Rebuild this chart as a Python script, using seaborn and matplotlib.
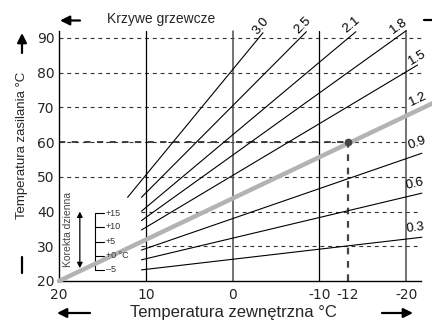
import numpy as np
import pandas as pd
import matplotlib
matplotlib.use("Agg")
import matplotlib.pyplot as plt
import seaborn as sns

# heating curves: start and end points
curve_labels = ['3.0', '2.5', '2.1', '1.8', '1.5', '0.9', '0.6', '0.3']
start_out = [12.1, 10.5, 10.5, 10.5, 10.5, 10.5, 10.5, 10.5]
start_sup = [44.1, 44.1, 40.1, 37.4, 34.7, 28.9, 26.1, 23.2]
end_out = [-3.5, -8.5, -14.2, -20.0, -21.3, -21.8, -21.8, -21.8]
end_sup = [91.5, 91.8, 91.8, 92.1, 82.2, 56.8, 45.3, 32.6]

# label positions for the curves (incl. the grey 1.2 curve)
label_names = ['3.0', '2.5', '2.1', '1.8', '1.5', '1.2', '0.9', '0.6', '0.3']
label_out = [-3.3, -8.1, -13.7, -19.1, -21.3, -21.3, -21.3, -21.0, -21.0]
label_sup = [93.5, 93.5, 93.8, 93.5, 84.2, 72.4, 59.6, 48.0, 35.3]

# grey highlighted curve 1.2
gray_out = [20, -23.3]
gray_sup = [20, 71.5]

# design point
design_pos = -13.3
design_sup = 60

# axes ticks
xticks = [20, 10, 0, -10, design_pos, -20]
xtick_labels = ['20', '10', '0', '-10', '-12', '-20']
yticks = [20, 30, 40, 50, 60, 70, 80, 90]
solid_vlines = [10, -10]
gray_vlines = [0, -20]
grid_y = [90, 80, 70, 60, 50, 40, 30]
grid_from = [20, 20, 20, 20, 20, 10.5, 10.5]
grid_to = [-21.7, -21.7, -19.8, -19.8, -21.7, -21.7, -21.7]

# daily correction scale
corr_labels = ['+15', '+10', '+5', '+0 °C', '–5']
corr_sup = [39.5, 35.6, 31.3, 27.2, 23.2]

sns.set_style('white')
plt.rcParams['font.family'] = ['Liberation Sans Narrow', 'Liberation Sans', 'DejaVu Sans']
num_font = ['DejaVu Sans']
reg_font = ['Liberation Sans', 'DejaVu Sans']

fig = plt.figure(figsize=(4.32, 3.23), dpi=100)
ax = fig.add_axes([59 / 432, 1 - 281 / 323, 362 / 432, 250 / 323])
ax.set_xlim(20, -21.7)
ax.set_ylim(20, 92)

rows = []
for i, lab in enumerate(curve_labels):
    rows.append((lab, start_out[i], start_sup[i]))
    rows.append((lab, end_out[i], end_sup[i]))
df = pd.DataFrame(rows, columns=['curve', 'out', 'sup'])

dash = (0, (3.5, 3.5))
for y, x0, x1 in zip(grid_y, grid_from, grid_to):
    ax.plot([x0, x1], [y, y], color='#333333', lw=0.8, ls=dash, zorder=1)
ax.plot([20, design_pos], [design_sup, design_sup], color='#333333', lw=1.3, ls=dash, zorder=1)
ax.plot([design_pos, design_pos], [20, design_sup], color='#444444', lw=1.6,
        ls=(0, (3, 3)), zorder=1)

for x in solid_vlines:
    ax.axvline(x, color='black', lw=0.9, zorder=2)
for x in gray_vlines:
    ax.axvline(x, color='#4d4d4d', lw=1.1, zorder=2)

sns.lineplot(data=df, x='out', y='sup', hue='curve', palette=['black'] * len(curve_labels),
             estimator=None, sort=False, lw=0.8, legend=False, ax=ax, zorder=3)
sns.lineplot(x=gray_out, y=gray_sup, color='#b3b3b3', lw=3.2, estimator=None, sort=False,
             ax=ax, zorder=4)
for ln in ax.lines:
    ln.set_clip_on(False)
ax.plot([design_pos], [design_sup], 'o', color='#444444', ms=4.5, zorder=5, clip_on=False)

# curve labels, rotated along the line
kx = 362 / 41.7
ky = 250 / 72
for name, xo, ys in zip(label_names, label_out, label_sup):
    rot = np.degrees(np.arctan(float(name) * ky / kx))
    ax.text(xo, ys, name, rotation=rot, ha='center', va='center', fontsize=9.5,
            family=reg_font, rotation_mode='anchor', color='black', zorder=6)

# daily correction scale
ax.plot([15.9, 15.9], [corr_sup[-1], corr_sup[0]], color='black', lw=0.8)
for lab, ys in zip(corr_labels, corr_sup):
    ax.plot([15.9, 14.8], [ys, ys], color='black', lw=0.8)
    ax.text(14.6, ys, lab, fontsize=6.5, family=reg_font, ha='left', va='center',
            color='#333333', zorder=7)
ax.annotate('', xy=(17.6, 40.0), xytext=(17.6, 23.7),
            arrowprops=dict(arrowstyle='<|-|>', color='black', lw=0.9, mutation_scale=8,
                            shrinkA=0, shrinkB=0))
ax.text(19.0, 34.9, 'Korekta dzienna', rotation=90, fontsize=7.5, family=reg_font,
        ha='center', va='center', color='#444444')

sns.despine(ax=ax)
ax.spines['left'].set_color('black')
ax.spines['bottom'].set_color('black')
ax.spines['left'].set_linewidth(1.0)
ax.spines['bottom'].set_linewidth(1.0)
ax.set_xticks(xticks)
ax.set_xticklabels(xtick_labels)
ax.set_yticks(yticks)
ax.tick_params(axis='both', length=0, labelsize=10)
ax.tick_params(axis='x', pad=5)
ax.tick_params(axis='y', pad=3)
for t in ax.get_xticklabels() + ax.get_yticklabels():
    t.set_family(num_font)
ax.set_xlabel('')
ax.set_ylabel('')

# outer labels and arrows (figure pixels)
fig.text(22 / 432, 1 - 145 / 323, 'Temperatura zasilania °C', rotation=90, fontsize=9.5,
         ha='center', va='center')
fig.text(233 / 432, 10 / 323, 'Temperatura zewnętrzna °C', fontsize=12, family=reg_font,
         ha='center', va='center')
fig.text(161 / 432, 1 - 19 / 323, 'Krzywe grzewcze', fontsize=10, ha='center', va='center')

arr = dict(arrowstyle='-|>', color='black', lw=1.6, mutation_scale=14, shrinkA=0, shrinkB=0)
for start, end in [((80, 302.5), (60, 302.5)), ((22, 270), (22, 290)),
                   ((90, 10), (57, 10)), ((382, 10), (413, 10))]:
    ax.annotate('', xy=end, xytext=start, xycoords='figure pixels',
                textcoords='figure pixels', arrowprops=arr, annotation_clip=False)
ax.annotate('', xy=(22, 50), xytext=(22, 66), xycoords='figure pixels',
            textcoords='figure pixels', annotation_clip=False,
            arrowprops=dict(arrowstyle='-', color='black', lw=1.6, shrinkA=0, shrinkB=0))
ax.annotate('', xy=(432, 303), xytext=(424, 303), xycoords='figure pixels',
            textcoords='figure pixels', annotation_clip=False,
            arrowprops=dict(arrowstyle='-', color='black', lw=1.6, shrinkA=0, shrinkB=0))

fig.savefig('out.png', dpi=100)
